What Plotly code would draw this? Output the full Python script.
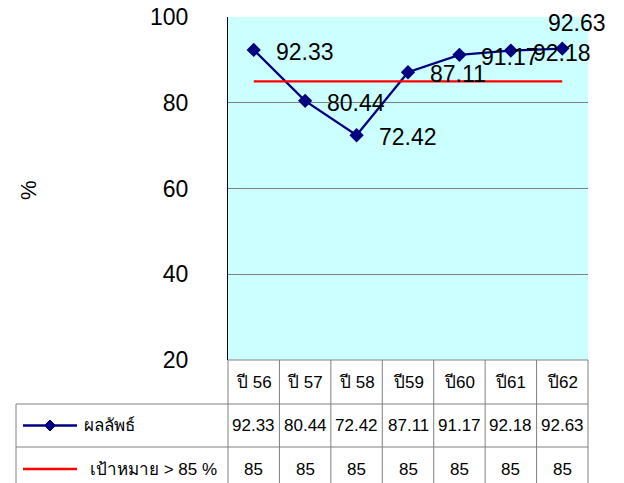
import plotly.graph_objects as go

# ---- data -----------------------------------------------------------------
years = ["ปี 56", "ปี 57", "ปี 58", "ปี59", "ปี60", "ปี61", "ปี62"]
result = [92.33, 80.44, 72.42, 87.11, 91.17, 92.18, 92.63]
target = [85, 85, 85, 85, 85, 85, 85]
result_name = "ผลลัพธ์"
target_name = "เป้าหมาย > 85 %"
y_ticks = [20, 40, 60, 80, 100]

# ---- geometry (pixels) ----------------------------------------------------
W, H = 624, 483
PLOT_L, PLOT_R, PLOT_T, PLOT_B = 228, 588, 17, 360
TABLE_L = 16
ROW_EDGES = [PLOT_B, 404, 447, 491]          # category row, result row, target row
FONT = "Arial, Liberation Sans, sans-serif"
NAVY, RED, GRID = "#000080", "#FF0000", "#808080"


def px(x):
    return x / W


def py(y):
    return 1 - y / H


idx = list(range(len(years)))
n = len(years)
col_w = (PLOT_R - PLOT_L) / n
col_edges = [PLOT_L + k * col_w for k in range(n + 1)]

fig = go.Figure()
fig.add_trace(go.Scatter(
    x=idx, y=result, mode="lines+markers", name=result_name,
    line=dict(color=NAVY, width=2.3),
    marker=dict(symbol="diamond", size=11, color=NAVY),
))
fig.add_trace(go.Scatter(
    x=idx, y=target, mode="lines", name=target_name,
    line=dict(color=RED, width=2.3),
))

# value labels next to each point; the last one sits above so it stays inside
for i, v in enumerate(result):
    last = i == n - 1
    fig.add_annotation(
        x=i, y=v, xref="x", yref="y", text=f"{v:.2f}", showarrow=False,
        xanchor="left", yanchor="middle",
        xshift=-16 if last else 20, yshift=26 if last else -2,
        font=dict(size=23, color="black", family=FONT),
    )

# ---- data table under the chart -------------------------------------------
line_style = dict(color=GRID, width=1)
shapes = []
# horizontal rules
shapes.append(dict(type="line", xref="paper", yref="paper",
                   x0=px(PLOT_L), x1=px(PLOT_R), y0=py(ROW_EDGES[0]), y1=py(ROW_EDGES[0]),
                   line=line_style))
for ye in ROW_EDGES[1:]:
    shapes.append(dict(type="line", xref="paper", yref="paper",
                       x0=px(TABLE_L), x1=px(PLOT_R), y0=py(ye), y1=py(ye),
                       line=line_style))
# vertical rules
for xe in col_edges:
    shapes.append(dict(type="line", xref="paper", yref="paper",
                       x0=px(xe), x1=px(xe), y0=py(ROW_EDGES[0]), y1=py(ROW_EDGES[-1]),
                       line=line_style))
shapes.append(dict(type="line", xref="paper", yref="paper",
                   x0=px(TABLE_L), x1=px(TABLE_L), y0=py(ROW_EDGES[1]), y1=py(ROW_EDGES[-1]),
                   line=line_style))

row_mid = [(ROW_EDGES[k] + ROW_EDGES[k + 1]) / 2 for k in range(3)]

# legend keys in the first column
KEY_X0, KEY_X1 = 23, 77
key_mid = (KEY_X0 + KEY_X1) / 2
shapes.append(dict(type="line", xref="paper", yref="paper",
                   x0=px(KEY_X0), x1=px(KEY_X1), y0=py(row_mid[1]), y1=py(row_mid[1]),
                   line=dict(color=NAVY, width=2.3)))
d = 5.5
cy = row_mid[1]
shapes.append(dict(type="path", xref="paper", yref="paper",
                   path=(f"M {px(key_mid - d)},{py(cy)} L {px(key_mid)},{py(cy - d)} "
                         f"L {px(key_mid + d)},{py(cy)} L {px(key_mid)},{py(cy + d)} Z"),
                   fillcolor=NAVY, line=dict(color=NAVY, width=1)))
shapes.append(dict(type="line", xref="paper", yref="paper",
                   x0=px(KEY_X0), x1=px(KEY_X1), y0=py(row_mid[2]), y1=py(row_mid[2]),
                   line=dict(color=RED, width=2.3)))

cell_font = dict(size=17, color="black", family=FONT)
fig.add_annotation(x=px(82), y=py(row_mid[1]), xref="paper", yref="paper",
                   text=result_name, showarrow=False, xanchor="left", yanchor="middle",
                   font=cell_font)
fig.add_annotation(x=px(88), y=py(row_mid[2]), xref="paper", yref="paper",
                   text=target_name, showarrow=False, xanchor="left", yanchor="middle",
                   font=cell_font)

for i in idx:
    for row, txt in ((0, years[i]), (1, f"{result[i]:.2f}"), (2, f"{target[i]:g}")):
        fig.add_annotation(x=i, y=py(row_mid[row]), xref="x", yref="paper",
                           text=txt, showarrow=False, xanchor="center", yanchor="middle",
                           font=cell_font)

# y-axis title
fig.add_annotation(x=px(28), y=py(190), xref="paper", yref="paper", text="%",
                   textangle=-90, showarrow=False, xanchor="center", yanchor="middle",
                   font=dict(size=22, color="black", family=FONT))

fig.update_layout(
    width=W, height=H,
    margin=dict(l=0, r=0, t=0, b=0, autoexpand=False),
    paper_bgcolor="white", plot_bgcolor="#CCFFFF",
    showlegend=False,
    shapes=shapes,
    font=dict(family=FONT, color="black"),
    xaxis=dict(domain=[px(PLOT_L), px(PLOT_R)], range=[-0.5, n - 0.5],
               showgrid=False, zeroline=False, showline=False,
               showticklabels=False, ticks="", automargin=False),
    yaxis=dict(domain=[py(PLOT_B), py(PLOT_T)], range=[20, 100],
               tickvals=y_ticks, ticks="", ticklabelstandoff=34,
               tickfont=dict(size=23, color="black", family=FONT),
               showgrid=True, gridcolor=GRID, gridwidth=1, automargin=False,
               zeroline=False, showline=True, linecolor="black", linewidth=1),
)

fig.write_html("out.html")
